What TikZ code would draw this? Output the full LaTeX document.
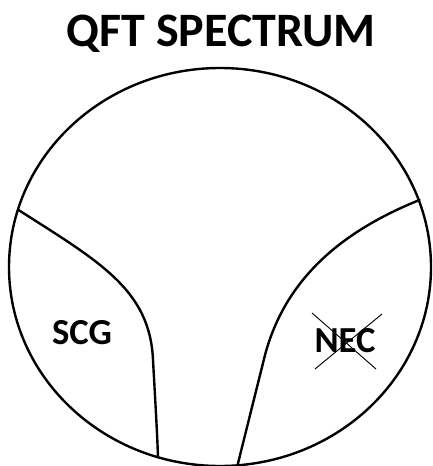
\documentclass[tikz,border=0pt]{standalone}
\usepackage{fontspec}
\setmainfont{Carlito}
\begin{document}
\begin{tikzpicture}[x=0.75pt,y=-0.75pt,
  outline/.style={line width=1.8pt, line cap=round, line join=round},
  crossline/.style={line width=0.7pt},
  titletext/.style={font=\fontsize{36}{40}\selectfont\bfseries, inner sep=0pt},
  regiontext/.style={font=\fontsize{27.5}{30}\selectfont\bfseries, inner sep=0pt}]
\useasboundingbox (0,0) rectangle (432,466);
% spectrum ellipse
\coordinate (c) at (220,267);
\draw[outline] (c) ellipse [x radius=158.25pt, y radius=149.25pt];
% left boundary
\coordinate (l0) at (18.5,210);
\coordinate (l1) at (153,360);
\coordinate (l2) at (158,457);
\draw[outline] (l0) .. controls (100,262) and (150,290) .. (l1)
  .. controls (155.5,405) and (157,430) .. (l2);
% right boundary
\coordinate (r0) at (419.5,200);
\coordinate (r1) at (265,355);
\coordinate (r2) at (237.5,465.3);
\draw[outline] (r0) .. controls (340,232) and (285,280) .. (r1) -- (r2);
% labels
\node[titletext] (title) at (221,34) {QFT SPECTRUM};
\node[regiontext] (scg) at (82,333) {SCG};
\node[regiontext] (nec) at (345,340.5) {NEC};
% cross over NEC
\coordinate (xa) at (312,313);
\coordinate (xb) at (376,369);
\coordinate (xc) at (382,314);
\coordinate (xd) at (315,369);
\draw[crossline] (xa) -- (xb);
\draw[crossline] (xc) -- (xd);
\end{tikzpicture}
\end{document}
